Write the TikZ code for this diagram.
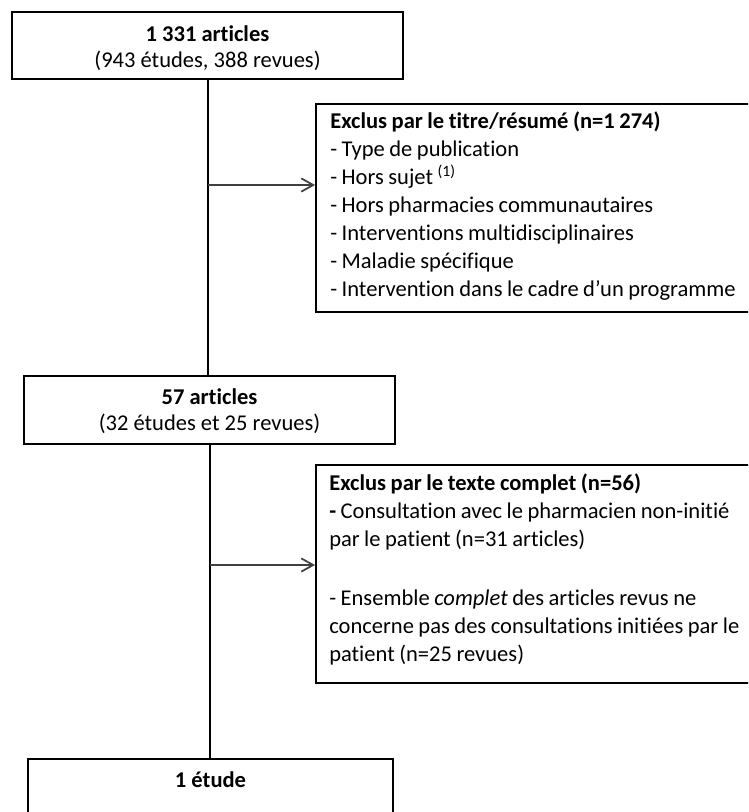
\documentclass[tikz,border=0pt]{standalone}
\usepackage{fontspec}
\setmainfont{Carlito}[Ligatures=NoCommon]
\usetikzlibrary{arrows.meta}
\newcommand\boxfont{\fontsize{16.9}{19}\selectfont}
\newcommand\listfont{\fontsize{16.9}{21}\selectfont}
% narrow interword spaces for the exclusion lists
\newcommand\tightsp{\spaceskip=0.2em plus 0.05em\relax\xspaceskip=0.2em\relax}
\begin{document}
\begin{tikzpicture}[x=0.75pt, y=-0.75pt,
  box/.style={draw=black, line width=1.5pt, rectangle, inner sep=0pt},
  txt/.style={inner sep=0pt, align=left, text width=700*0.75pt,
    font=\listfont, anchor=base west},
  ctxt/.style={inner sep=0pt, align=center, font=\boxfont},
  link/.style={draw=black, line width=1.5pt},
  arr/.style={draw=black!75, line width=1.3pt,
    -{Straight Barb[length=9pt,width=10pt]}}]
\useasboundingbox (0,0) rectangle (748,812);
\clip (0,0) rectangle (748,812);

% main flow boxes
\node[box, minimum width=391*0.75pt, minimum height=67*0.75pt] (b1) at (207.5,45.5) {};
\node[ctxt] (t1) at (207.5,48) {\textbf{1 331 articles}\\(943 études, 388 revues)};
\node[box, minimum width=371*0.75pt, minimum height=68*0.75pt] (b3) at (209.5,410) {};
\node[ctxt] (t3) at (209.5,411) {\textbf{57 articles}\\(32 études et 25 revues)};
\node[box, minimum width=365*0.75pt, minimum height=71*0.75pt] (b5) at (210.5,794.5) {};
\node[ctxt] (t5) at (210.5,780) {\textbf{1 étude}};

% exclusion boxes
\node[box, minimum width=436*0.75pt, minimum height=208*0.75pt] (b2) at (534,208) {};
\node[txt] (t2) at (330,129) {\tightsp\textbf{Exclus par le titre/résumé (n=1 274)}\\
  - Type de publication\\
  - Hors sujet \textsuperscript{(1)}\\
  - Hors pharmacies communautaires\\
  - Interventions multidisciplinaires\\
  - Maladie spécifique\\
  - Intervention dans le cadre d’un programme};

\node[box, minimum width=436*0.75pt, minimum height=218*0.75pt] (b4) at (534,574) {};
\node[txt] (t4) at (329,490) {\tightsp\textbf{Exclus par le texte complet (n=56)}\\
  \textbf{-} Consultation avec le pharmacien non-initié\\
  par le patient (n=31 articles)\\[23.6pt]
  - Ensemble \textit{complet} des articles revus ne\\
  concerne pas des consultations initiées par le\\
  patient (n=25 revues)};

% connectors
\draw[link] (b1.south) -- (b1.south |- b3.north);
\draw[link] (b3.south) -- (b3.south |- b5.north);
\coordinate (j1) at (207.5,185);
\coordinate (j2) at (209.5,565);
\draw[arr] (j1) -- (j1 -| b2.west);
\draw[arr] (j2) -- (j2 -| b4.west);
\end{tikzpicture}
\end{document}
